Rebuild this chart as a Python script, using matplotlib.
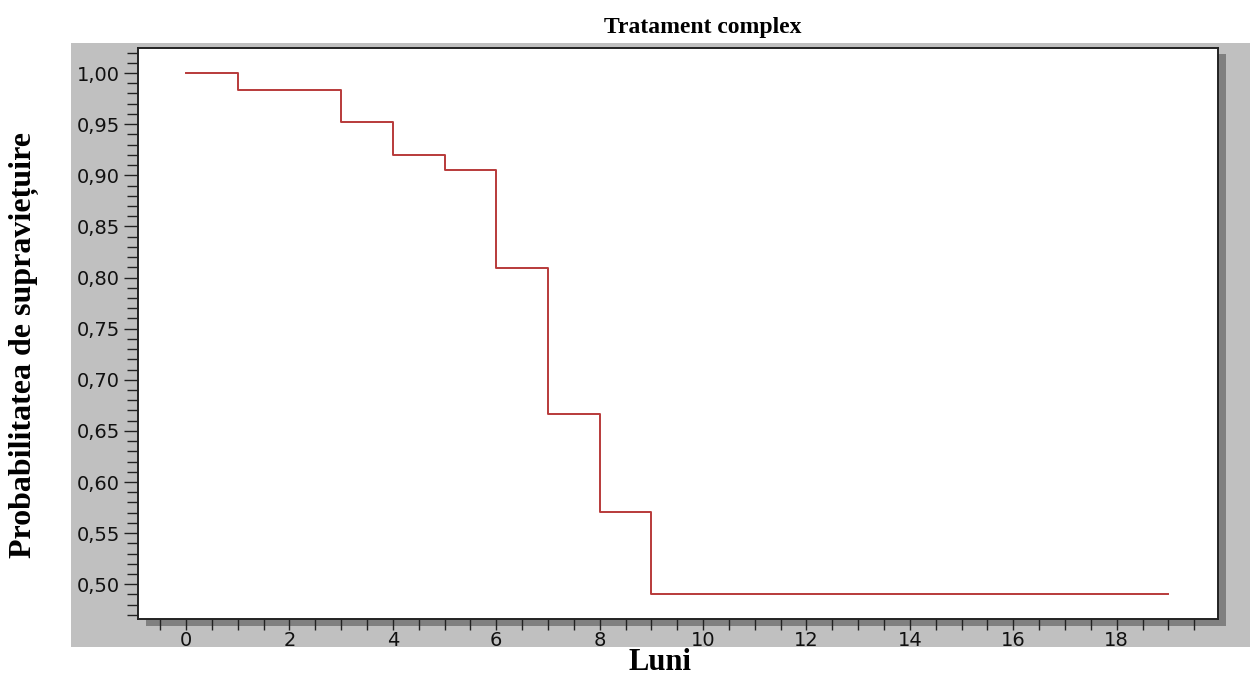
import matplotlib
matplotlib.use('Agg')
import matplotlib.pyplot as plt
from matplotlib.patches import Rectangle
from matplotlib.ticker import MultipleLocator, FuncFormatter

# Kaplan-Meier steps
luni = [0, 1, 3, 4, 5, 6, 7, 8, 9, 19]
prob = [1.000, 0.983, 0.952, 0.920, 0.905, 0.809, 0.667, 0.571, 0.490, 0.490]

x_ticks = [0, 2, 4, 6, 8, 10, 12, 14, 16, 18]
y_ticks = [0.50, 0.55, 0.60, 0.65, 0.70, 0.75, 0.80, 0.85, 0.90, 0.95, 1.00]

W, H = 1250, 677
fig = plt.figure(figsize=(W / 100, H / 100), dpi=100)
fig.patch.set_facecolor('white')

def fr(x0, y0, x1, y1):
    # pixel box -> figure fraction box
    return x0 / W, 1 - y1 / H, (x1 - x0) / W, (y1 - y0) / H

# gray frame and drop shadow behind the plot area
gx, gy, gw, gh = fr(71, 43, 1250, 647)
fig.patches.append(Rectangle((gx, gy), gw, gh, transform=fig.transFigure,
                             facecolor='#c0c0c0', edgecolor='none', zorder=-2))
sx, sy, sw, sh = fr(146, 54, 1226, 626)
fig.patches.append(Rectangle((sx, sy), sw, sh, transform=fig.transFigure,
                             facecolor='#808080', edgecolor='none', zorder=-1))

ax = fig.add_axes(fr(138, 48, 1218, 619))
ax.set_zorder(1)
ax.set_facecolor('white')
ax.step(luni, prob, where='post', color='#b83a3a', linewidth=1.4)

ax.set_xlim(-0.93, 19.96)
ax.set_ylim(0.466, 1.0245)

ax.set_xticks(x_ticks)
ax.xaxis.set_minor_locator(MultipleLocator(0.5))
ax.set_yticks(y_ticks)
ax.yaxis.set_minor_locator(MultipleLocator(0.01))
ax.yaxis.set_major_formatter(FuncFormatter(lambda v, p: f'{v:.2f}'.replace('.', ',')))

ax.tick_params(axis='x', which='both', direction='out', length=8, width=1,
               color='#222222', labelsize=14, pad=1, labelcolor='#111111')
ax.tick_params(axis='y', which='major', direction='out', length=10, width=1,
               color='#222222', labelsize=14, pad=3, labelcolor='#111111')
ax.tick_params(axis='y', which='minor', direction='out', length=8, width=1,
               color='#222222')
for s in ax.spines.values():
    s.set_color('#222222')
    s.set_linewidth(1.4)

serif = ['Liberation Serif', 'DejaVu Serif']
fig.text(703 / W, 1 - 27 / H, 'Tratament complex', family=serif,
         fontweight='bold', fontsize=17, ha='center', va='center')
fig.text(660 / W, 1 - 670 / H, 'Luni', family=serif,
         fontweight='bold', fontsize=22, ha='center', va='baseline')
fig.text(24 / W, 1 - 345 / H, 'Probabilitatea de supraviețuire', family=serif,
         fontweight='bold', fontsize=23, rotation=90, ha='center', va='center')

fig.savefig('out.png', dpi=100)
